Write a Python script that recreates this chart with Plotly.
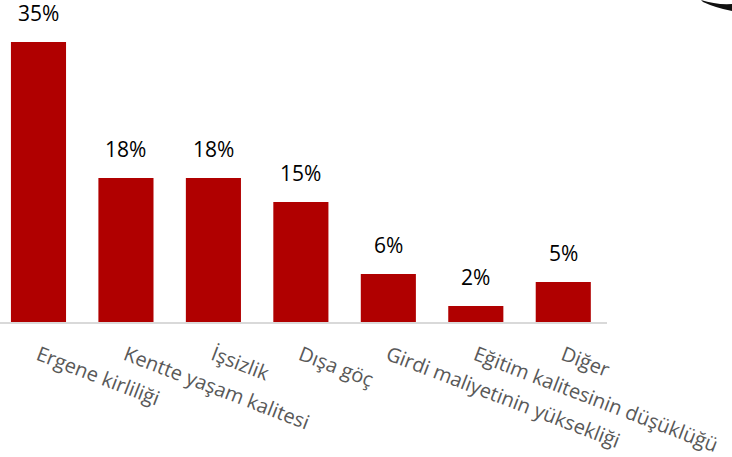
import plotly.graph_objects as go

categories = ["Ergene kirliliği", "Kentte yaşam kalitesi", "İşsizlik", "Dışa göç",
              "Girdi maliyetinin yüksekliği", "Eğitim kalitesinin düşüklüğü", "Diğer"]
values = [35, 18, 18, 15, 6, 2, 5]
labels = [f"{v}%" for v in values]

W, H = 732, 457
L, R, T, B = 0, 125, 0, 135
pw, ph = W - L - R, H - T - B

def px(x):
    return (x - L) / pw

def py(y):
    return 1 - (y - T) / ph

fig = go.Figure(go.Bar(
    x=list(range(len(categories))), y=values,
    marker=dict(color="#B00000", line=dict(width=0)),
    width=0.63, hoverinfo="skip",
))

for i, (v, t) in enumerate(zip(values, labels)):
    fig.add_annotation(x=i, y=v, text=t, showarrow=False, xanchor="center",
                       yanchor="bottom", yshift=13,
                       font=dict(family="Open Sans", size=21, color="#000000"))

arc = (f"M {px(701)},{py(0)} Q {px(716)},{py(5)} {px(732)},{py(4)} "
       f"L {px(732)},{py(11)} Q {px(716)},{py(8)} {px(703)},{py(2)} Z")

fig.update_layout(
    width=W, height=H,
    margin=dict(l=L, r=R, t=T, b=B),
    paper_bgcolor="white", plot_bgcolor="white",
    showlegend=False,
    xaxis=dict(
        tickmode="array", tickvals=list(range(len(categories))), ticktext=categories,
        range=[-0.44, 6.5], tickangle=21,
        tickfont=dict(family="Open Sans", size=20, color="#595959"),
        showline=True, linecolor="#D9D9D9", linewidth=2,
        showgrid=False, zeroline=False,
        ticks="outside", ticklen=12, tickcolor="rgba(0,0,0,0)",
    ),
    yaxis=dict(range=[0, 40.25], visible=False, showgrid=False, zeroline=False),
    shapes=[dict(type="path", xref="paper", yref="paper", path=arc,
                 fillcolor="#111111", line=dict(width=0))],
)

fig.write_html("out.html", config={"displayModeBar": False},
               post_script="document.body.style.margin='0';")
